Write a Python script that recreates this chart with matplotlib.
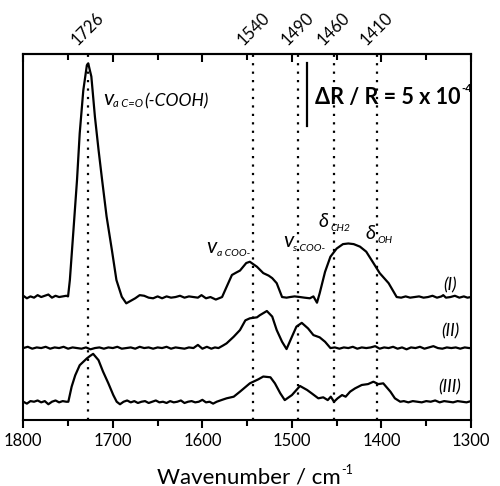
import numpy as np
import matplotlib
matplotlib.use('Agg')
import matplotlib.pyplot as plt
from matplotlib.ticker import MultipleLocator

# trace (I)
wn_1 = [1800, 1796, 1792, 1788, 1784, 1780, 1776, 1772, 1768, 1764, 1760, 1756, 1752, 1750,
        1748, 1744, 1740, 1737, 1733, 1729, 1727.5, 1724, 1720, 1716, 1712, 1707, 1701, 1696,
        1690, 1685, 1680, 1675, 1670, 1665, 1660, 1655, 1650, 1645, 1640, 1635, 1630, 1625,
        1620, 1615, 1610, 1605, 1601, 1596, 1591, 1585, 1578, 1573, 1567, 1562, 1558, 1551,
        1547, 1539, 1532, 1526, 1522, 1517, 1511, 1506, 1502, 1497, 1491, 1486, 1480, 1476,
        1472, 1469, 1463, 1457, 1450, 1443, 1437, 1431, 1424, 1417, 1409, 1402, 1392, 1383,
        1378, 1373, 1368, 1363, 1358, 1353, 1348, 1343, 1338, 1333, 1331, 1328, 1323, 1318,
        1313, 1308, 1304, 1300]
dr_1 = [0.10, -0.10, 0.05, -0.05, 0.15, 0.00, 0.10, 0.20, -0.05, 0.10, 0.00, 0.05, 0.10, 0.05,
        1.35, 5.3, 9.3, 13.0, 16.4, 18.4, 18.55, 17.5, 14.3, 11.7, 9.3, 6.4, 3.7, 1.35,
        0.02, -0.5, -0.3, -0.1, 0.15, 0.1, -0.05, -0.1, 0.05, -0.1, 0.05, -0.05, 0.0, 0.1,
        -0.05, 0.05, 0.0, -0.05, 0.15, -0.1, 0.0, -0.2, 0.0, 0.8, 1.75, 1.95, 2.1, 2.7,
        2.8, 2.4, 1.9, 1.7, 1.5, 1.1, 0.0, -0.05, 0.0, 0.05, 0.0, -0.05, -0.1, 0.05,
        -0.45, 0.3, 2.0, 3.2, 3.85, 4.2, 4.25, 4.2, 4.0, 3.6, 2.7, 1.9, 1.1, 0.0,
        -0.05, 0.05, -0.05, 0.0, 0.05, -0.05, 0.0, 0.1, -0.05, 0.05, 0.15, -0.05, 0.0, 0.1,
        -0.05, 0.05, -0.05, 0.0]

# trace (II)
wn_2 = [1800, 1795, 1790, 1785, 1780, 1775, 1770, 1765, 1760, 1755, 1750, 1745, 1740, 1735,
        1730, 1725, 1720, 1715, 1710, 1705, 1700, 1695, 1690, 1685, 1680, 1675, 1670, 1665,
        1660, 1655, 1650, 1645, 1640, 1635, 1630, 1625, 1620, 1615, 1610, 1605, 1600, 1595,
        1590, 1586, 1582, 1577, 1573, 1565, 1558, 1552, 1547, 1539, 1536, 1528, 1522, 1517,
        1511, 1506, 1500, 1495, 1489, 1482, 1476, 1469, 1463, 1457, 1452, 1447, 1442, 1437,
        1432, 1427, 1422, 1417, 1412, 1407, 1402, 1397, 1392, 1387, 1382, 1377, 1372, 1367,
        1362, 1357, 1352, 1347, 1342, 1337, 1332, 1327, 1322, 1317, 1312, 1307, 1302, 1300]
dr_2 = [0.0, 0.1, -0.05, 0.05, 0.0, 0.1, -0.05, 0.05, 0.0, 0.1, -0.05, 0.05, 0.0, -0.05,
        0.05, -0.1, 0.0, 0.05, -0.05, 0.05, 0.0, 0.1, -0.05, 0.0, 0.05, -0.05, 0.1, 0.0,
        0.05, -0.05, 0.05, 0.0, 0.1, -0.05, 0.05, 0.0, -0.05, 0.05, 0.0, 0.25, -0.05, 0.1,
        -0.05, 0.05, 0.0, 0.2, 0.37, 0.9, 1.43, 2.2, 2.36, 2.44, 2.6, 2.94, 2.5, 1.43,
        0.5, -0.08, 0.9, 1.7, 2.0, 1.56, 1.03, 0.85, 0.5, 0.0, 0.05, -0.05, 0.05, 0.0,
        0.1, -0.05, 0.05, 0.0, 0.05, 0.15, -0.05, 0.05, 0.0, 0.1, -0.05, 0.05, -0.1, 0.05,
        0.0, 0.1, -0.05, 0.05, 0.15, 0.0, -0.05, 0.05, 0.0, 0.05, -0.05, 0.05, 0.0, 0.0]

# trace (III)
wn_3 = [1800, 1796, 1792, 1788, 1784, 1780, 1776, 1772, 1768, 1764, 1760, 1756, 1752, 1749.7,
        1746, 1742, 1737, 1729, 1725.5, 1722, 1716, 1711, 1705, 1699.5, 1695.7, 1692, 1688, 1684,
        1680, 1676, 1672, 1668, 1664, 1660, 1656, 1652, 1648, 1644, 1640, 1636, 1632, 1628,
        1624, 1620, 1616, 1612, 1608, 1604, 1600, 1596, 1592, 1588, 1584, 1578, 1573, 1565,
        1558, 1547, 1537.5, 1532, 1524, 1519, 1513, 1508, 1500, 1491, 1483, 1478, 1470.5, 1465,
        1460, 1456.6, 1453, 1449, 1444, 1440, 1435, 1429.5, 1422, 1415, 1409, 1403.5, 1398, 1390,
        1385, 1379, 1375, 1370, 1365, 1360, 1355, 1350, 1345, 1340, 1335, 1330, 1325, 1320,
        1315, 1310, 1305, 1300]
dr_3 = [0.0, -0.15, 0.05, 0.0, 0.1, -0.05, 0.05, -0.2, 0.0, 0.1, -0.05, 0.05, 0.0, 0.0,
        1.2, 2.1, 2.9, 3.44, 3.63, 3.8, 3.3, 2.4, 1.46, 0.53, 0.0, -0.2, 0.0, 0.1,
        -0.05, 0.05, -0.1, 0.0, 0.05, -0.1, 0.0, 0.1, -0.05, 0.0, -0.1, 0.05, -0.05, 0.0,
        0.1, -0.1, 0.0, 0.05, -0.05, 0.0, 0.15, -0.05, 0.0, -0.15, 0.0, 0.15, 0.27, 0.4,
        0.8, 1.46, 1.78, 2.0, 1.94, 1.46, 0.67, 0.13, 0.53, 1.25, 0.93, 0.67, 0.27, 0.35,
        0.13, 0.4, 0.0, 0.27, 0.53, 0.4, 0.8, 1.06, 1.33, 1.4, 1.59, 1.4, 1.46, 0.8,
        0.27, 0.0, 0.05, -0.05, 0.05, 0.0, -0.05, 0.05, 0.0, 0.1, -0.05, 0.05, 0.0, -0.05,
        0.05, 0.0, -0.05, 0.05]

offsets = [9.76, 5.71, 1.45]
trace_names = ['(I)', '(II)', '(III)']
mark_pos = [1728, 1543, 1493.5, 1453, 1405]
mark_labels = ['1726', '1540', '1490', '1460', '1410']

plt.rcParams['font.family'] = ['Lato', 'DejaVu Sans']

fig = plt.figure(figsize=(5, 4.86), dpi=100)
ax = fig.add_axes([0.0466, 0.1358, 0.8954, 0.7531])

for wn, dr, off in zip([wn_1, wn_2, wn_3], [dr_1, dr_2, dr_3], offsets):
    ax.plot(wn, np.array(dr) + off, color='black', lw=1.6)

for x, lab in zip(mark_pos, mark_labels):
    ax.axvline(x, color='black', lw=1.6, linestyle=(0, (1, 2.8)))
    ax.text(x, 1.015, lab, transform=ax.get_xaxis_transform(), rotation=45,
            ha='center', va='bottom', fontsize=12)

ax.set_xlim(1800, 1300)
ax.set_ylim(0, 29.05)
ax.set_yticks([])
ax.set_xticks(range(1800, 1299, -100))
ax.xaxis.set_minor_locator(MultipleLocator(50))
ax.tick_params(axis='x', which='major', direction='out', length=6, width=1.5,
               labelsize=12, pad=3)
ax.tick_params(axis='x', which='minor', direction='out', length=4, width=1.5)
for sp in ax.spines.values():
    sp.set_linewidth(1.5)

top = ax.secondary_xaxis('top')
top.set_xticks(range(1800, 1299, -100))
top.set_xticklabels([])
top.xaxis.set_minor_locator(MultipleLocator(50))
top.tick_params(which='major', direction='in', length=6, width=1.5)
top.tick_params(which='minor', direction='in', length=4, width=1.5)
top.spines['top'].set_linewidth(1.5)

# scale bar
ax.plot([1483.5, 1483.5], [23.3, 28.3], color='black', lw=1.6)
t = ax.text(1474, 25.08, 'ΔR / R = 5 x 10', fontsize=15.5, fontweight='bold',
            ha='left', va='baseline')
ax.annotate('-4', xy=(1, 1), xycoords=t, xytext=(0.5, 3), textcoords='offset points',
            fontsize=8, fontweight='bold', ha='left', va='top')

# band labels
ax.text(1711, 25.0, 'v', fontsize=15.5, style='italic', va='baseline')
ax.text(1699.8, 24.84, 'a C=O', fontsize=8, style='italic', va='baseline')
ax.text(1665.2, 24.87, '(-COOH)', fontsize=12.5, style='italic', va='baseline')

ax.text(1595.2, 13.23, 'v', fontsize=15.5, style='italic', va='baseline')
ax.text(1583.3, 13.02, 'a COO-', fontsize=7.5, style='italic', va='baseline')

ax.text(1509.6, 13.75, 'v', fontsize=15.5, style='italic', va='baseline')
ax.text(1499.1, 13.44, 's COO-', fontsize=7.5, style='italic', va='baseline')

ax.text(1470.5, 15.34, 'δ', fontsize=14, style='italic', va='baseline')
ax.text(1456.7, 15.02, 'CH2', fontsize=7.5, style='italic', va='baseline')

ax.text(1418.3, 14.34, 'δ', fontsize=14, style='italic', va='baseline')
ax.text(1404.6, 14.02, 'OH', fontsize=7.5, style='italic', va='baseline')

for name, y in zip(trace_names, [10.71, 7.06, 2.62]):
    ax.text(1323.4, y, name, fontsize=12.5, style='italic', ha='center', va='center')

xl = fig.text(157 / 500, 0.006, 'Wavenumber / cm', fontsize=16, ha='left', va='baseline')
ax.annotate('-1', xy=(1, 1), xycoords=xl, xytext=(0.5, 2), textcoords='offset points',
            fontsize=9, ha='left', va='top')

fig.savefig('out.png', dpi=100)
